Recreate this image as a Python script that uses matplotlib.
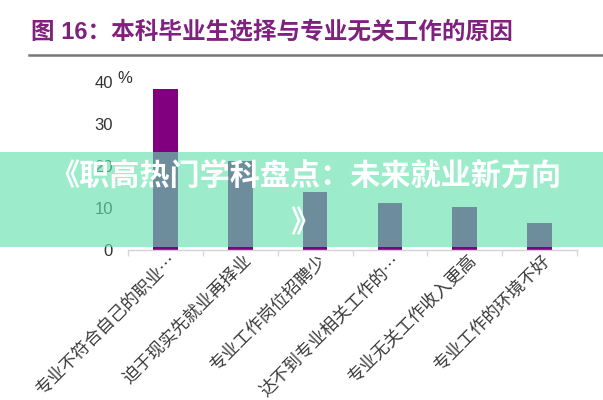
import matplotlib
matplotlib.use("Agg")
import matplotlib.pyplot as plt
from matplotlib.patches import Rectangle
from matplotlib.lines import Line2D
from matplotlib.transforms import ScaledTranslation
import numpy as np

# ---- data ----
categories = ["专业不符合自己的职业…", "迫于现实先就业再择业", "专业工作岗位招聘少",
              "达不到专业相关工作的…", "专业无关工作收入更高", "专业工作的环境不好"]
values = [38.3, 21.2, 13.8, 11.0, 10.2, 6.3]
yticks = [0, 10, 20, 30, 40]
title = "图 16：本科毕业生选择与专业无关工作的原因"
banner_line1 = "《职高热门学科盘点：未来就业新方向"
banner_line2 = "》"

W, H = 603, 400
fig = plt.figure(figsize=(W / 100, H / 100), dpi=100)
fig.patch.set_facecolor("white")

ax = fig.add_axes([128 / W, 1 - 249.5 / H, 449 / W, (249.5 - 81.7) / H])
x = np.arange(len(categories))
ax.bar(x, values, width=0.33, color="#800080", zorder=2)
ax.set_xlim(-0.5, len(categories) - 0.5)
ax.set_ylim(0, 40)

for s in ["top", "right", "left"]:
    ax.spines[s].set_visible(False)
ax.spines["bottom"].set_color("#d8d0d8")
ax.spines["bottom"].set_linewidth(1.0)

ax.set_yticks(yticks)
ax.set_yticklabels([str(v) for v in yticks], fontsize=12,
                   family=["Liberation Sans"], color="#333333")
ax.tick_params(axis="y", length=0, pad=10.8)

ax.set_xticks(x)
ax.set_xticks(np.arange(-0.5, len(categories), 1.0), minor=True)
ax.tick_params(axis="x", which="major", length=0, pad=6)
ax.tick_params(axis="x", which="minor", length=4, color="#d8d8d8", width=1)
ax.set_xticklabels(categories, rotation=45, ha="right", va="center",
                   rotation_mode="anchor", fontsize=12.5,
                   family=["Noto Sans CJK SC", "DejaVu Sans"], color="#3a3a3a")
off = ScaledTranslation(8 / 100, 0, fig.dpi_scale_trans)
for lbl in ax.get_xticklabels():
    lbl.set_transform(lbl.get_transform() + off)

ax.annotate("%", xy=(0, 40), xycoords=("axes fraction", "data"),
            xytext=(-7.5, 2.5), textcoords="offset points",
            ha="left", va="center", fontsize=12,
            family=["Liberation Sans"], color="#333333")

# title and rule
fig.text(31 / W, 1 - 32 / H, title, ha="left", va="center", fontsize=17,
         fontweight="bold", color="#80207F",
         family=["Liberation Sans", "Noto Sans CJK SC"])
fig.add_artist(Line2D([29 / W, 1.0], [1 - 55 / H, 1 - 55 / H],
                      transform=fig.transFigure, color="#777777", linewidth=1.8))

# overlay banner
fig.add_artist(Rectangle((0, 1 - 247 / H), 1.0, (247 - 152) / H,
                         transform=fig.transFigure, facecolor="#62E1AF",
                         alpha=0.63, edgecolor="none", zorder=10))
fig.text(305 / W, 1 - 176 / H, banner_line1, ha="center", va="center",
         fontsize=21.7, fontweight="bold", color="white", zorder=11,
         family=["Noto Sans CJK SC", "DejaVu Sans"])
fig.text(305 / W, 1 - 223 / H, banner_line2, ha="center", va="center",
         fontsize=21.7, fontweight="bold", color="white", zorder=11,
         family=["Noto Sans CJK SC", "DejaVu Sans"])

fig.savefig("out.png", dpi=100)
